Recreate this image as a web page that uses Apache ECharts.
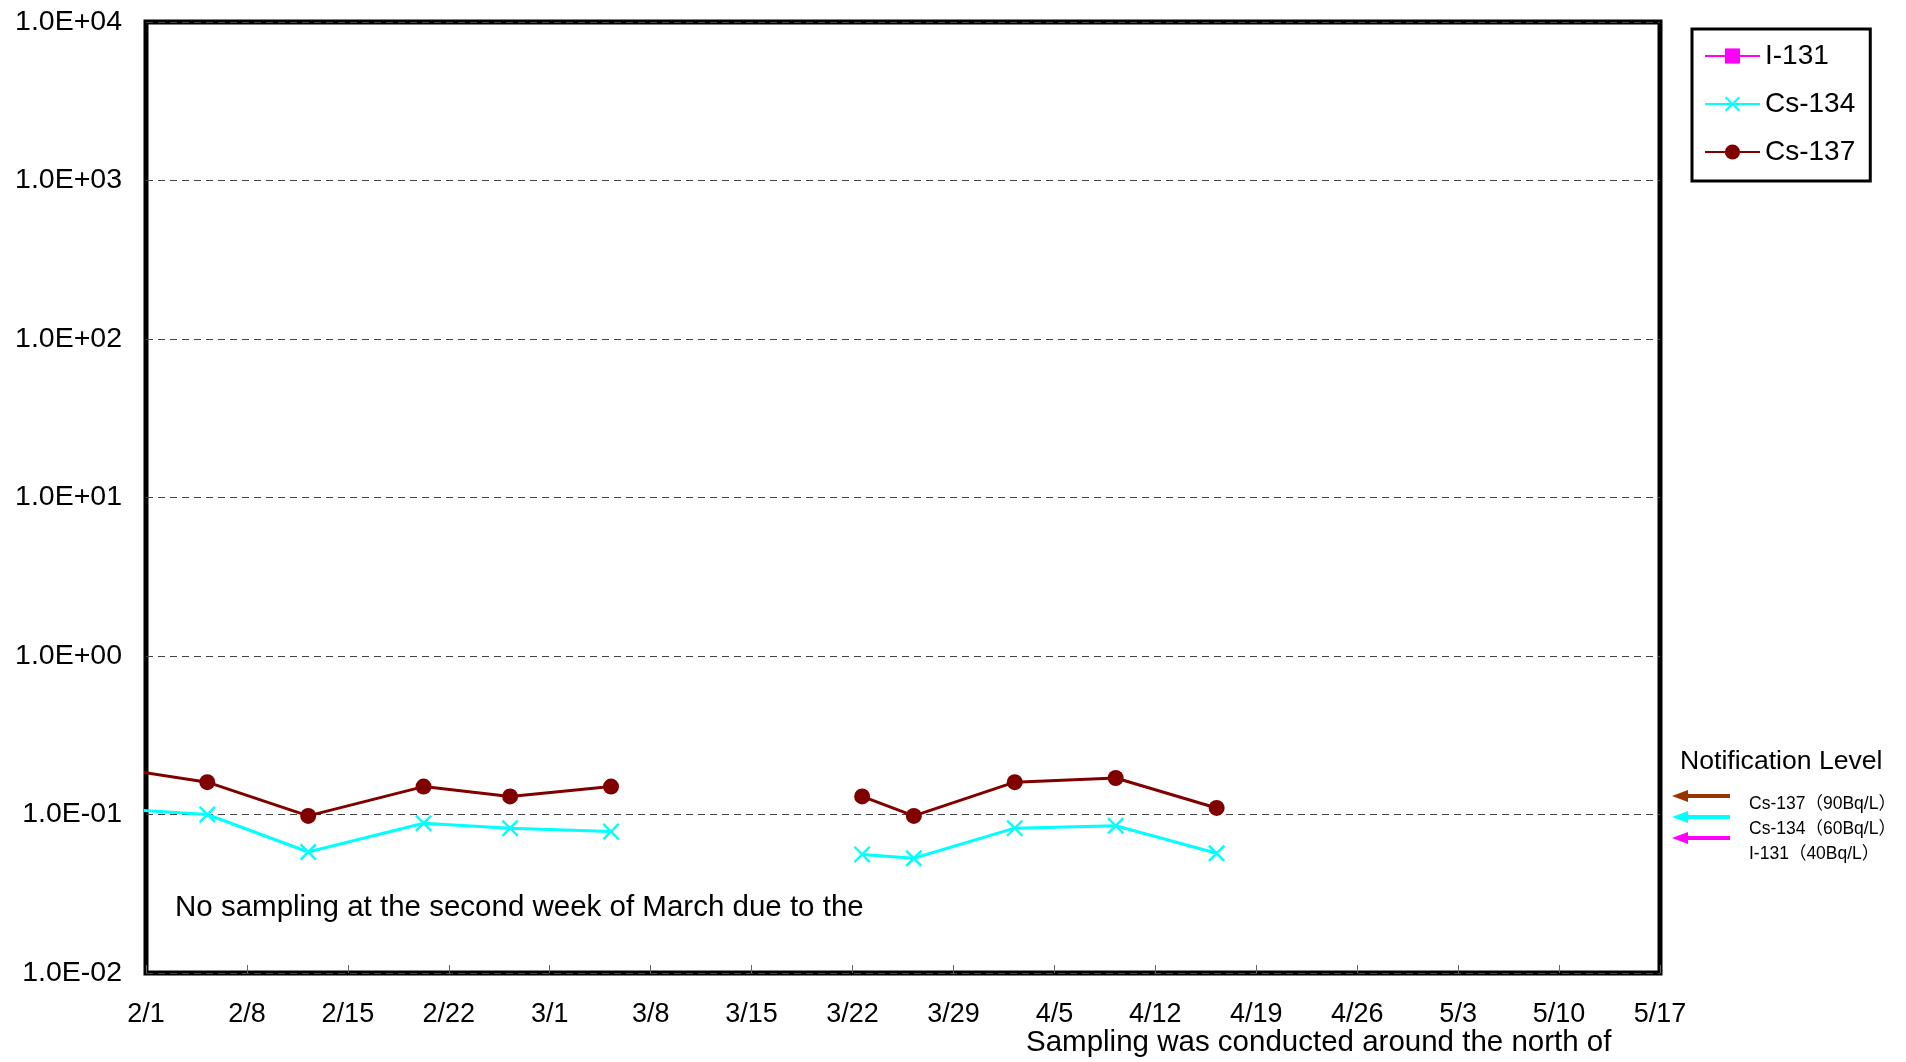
<!DOCTYPE html>
<html>
<head>
<meta charset="utf-8">
<script src="https://cdn.jsdelivr.net/npm/echarts@6/dist/echarts.min.js"></script>
<style>
  html, body { margin: 0; padding: 0; background: #fff; }
  #main { width: 1906px; height: 1062px; }
</style>
</head>
<body>
<div id="main"></div>
<script>
// sampling times (M/D HH:mm); 3/12 = no sampling (second week of March)
var dates = ['1/29 06:00', '2/5 06:00', '2/12 06:00', '2/20 06:00', '2/26 06:00', '3/5 06:00', '3/12 06:00',
             '3/22 16:00', '3/26 06:00', '4/2 06:00', '4/9 06:00', '4/16 06:00'];
// Bq/L, null = not sampled / not detected
var i131  = [null, null, null, null, null, null, null, null, null, null, null, null];
var cs134 = [0.11, 0.10, 0.058, 0.088, 0.082, 0.078, null, 0.056, 0.053, 0.082, 0.085, 0.057];
var cs137 = [0.20, 0.16, 0.098, 0.15, 0.13, 0.15, null, 0.13, 0.098, 0.16, 0.17, 0.11];
var xTickDays = 7;     // weekly ticks from 2/1
var xMaxDays = 105;    // up to 5/17

var baseDate = Date.UTC(2013, 1, 1);
function dayOf(s) {
    var parts = s.split(' ');
    var p = parts[0].split('/');
    var t = (parts[1] || '00:00').split(':');
    return (Date.UTC(2013, +p[0] - 1, +p[1], +t[0], +t[1]) - baseDate) / 86400000;
}
function dayLabel(d) {
    var dt = new Date(baseDate + d * 86400000);
    return (dt.getUTCMonth() + 1) + '/' + dt.getUTCDate();
}
function expLabel(v) {
    var e = Math.round(Math.log10(v));
    var a = Math.abs(e);
    return '1.0E' + (e < 0 ? '-' : '+') + (a < 10 ? '0' : '') + a;
}
function toData(vals) {
    return dates.map(function (d, i) {
        return [dayOf(d), vals[i] == null ? '-' : vals[i]];
    });
}

var font = 'Liberation Sans, Arial, sans-serif';
var xShape = 'path://M0,1 L1,0 L5,4 L9,0 L10,1 L6,5 L10,9 L9,10 L5,6 L1,10 L0,9 L4,5 Z';

var chart = echarts.init(document.getElementById('main'));

function arrow(y, color) {
    return [{
        type: 'line',
        shape: { x1: 1684, y1: y, x2: 1730, y2: y },
        style: { stroke: color, lineWidth: 4 }
    }, {
        type: 'polygon',
        shape: { points: [[1672, y], [1688, y - 6], [1688, y + 6]] },
        style: { fill: color }
    }];
}

var option = {
    animation: false,
    backgroundColor: '#fff',
    grid: {
        left: 146, top: 22, right: 246, bottom: 89,
        show: true, borderColor: '#000', borderWidth: 5
    },
    legend: {
        orient: 'vertical',
        left: 1692, top: 29,
        padding: [13, 15, 15, 12],
        itemGap: 20,
        itemWidth: 55,
        itemHeight: 19,
        borderColor: '#000',
        borderWidth: 3,
        lineStyle: { width: 2 },
        textStyle: { fontFamily: font, fontSize: 28, color: '#000' },
        data: ['I-131', 'Cs-134', 'Cs-137']
    },
    xAxis: {
        type: 'value',
        min: 0, max: xMaxDays, interval: xTickDays,
        axisLine: { show: false },
        axisTick: { show: true, inside: true, length: 8, lineStyle: { color: '#666', width: 1 } },
        splitLine: { show: false },
        axisLabel: {
            margin: 28,
            fontFamily: font, fontSize: 27, color: '#000',
            formatter: function (v) { return dayLabel(v); }
        }
    },
    yAxis: {
        type: 'log',
        logBase: 10,
        min: 0.01, max: 10000,
        axisLine: { show: false },
        axisTick: { show: false },
        splitLine: { show: true, lineStyle: { color: '#444', width: 1, type: [7, 5] } },
        axisLabel: {
            margin: 24,
            fontFamily: font, fontSize: 28.5, color: '#000',
            formatter: function (v) { return expLabel(v); }
        }
    },
    series: [{
        name: 'I-131',
        type: 'line',
        data: toData(i131),
        symbol: 'rect', symbolSize: 15,
        color: '#FF00FF',
        lineStyle: { width: 3, color: '#FF00FF' }
    }, {
        name: 'Cs-134',
        type: 'line',
        data: toData(cs134),
        symbol: xShape, symbolSize: 17,
        color: '#00FFFF',
        lineStyle: { width: 3, color: '#00FFFF' }
    }, {
        name: 'Cs-137',
        type: 'line',
        data: toData(cs137),
        symbol: 'circle', symbolSize: 16,
        color: '#800000',
        lineStyle: { width: 3, color: '#800000' }
    }],
    graphic: [{
        type: 'text', left: 175, top: 893,
        style: { text: 'No sampling at the second week of March due to the', fontFamily: font, fontSize: 29.5, fill: '#000' }
    }, {
        type: 'text', left: 1026, top: 1028,
        style: { text: 'Sampling was conducted around the north of', fontFamily: font, fontSize: 29.5, fill: '#000' }
    }, {
        type: 'text', left: 1680, top: 748,
        style: { text: 'Notification Level', fontFamily: font, fontSize: 26.6, fill: '#000' }
    }, {
        type: 'text', left: 1749, top: 795,
        style: { text: 'Cs-137（90Bq/L）', fontFamily: font + ', Noto Sans CJK JP', fontSize: 17.5, fill: '#000' }
    }, {
        type: 'text', left: 1749, top: 820,
        style: { text: 'Cs-134（60Bq/L）', fontFamily: font + ', Noto Sans CJK JP', fontSize: 17.5, fill: '#000' }
    }, {
        type: 'text', left: 1749, top: 845,
        style: { text: 'I-131（40Bq/L）', fontFamily: font + ', Noto Sans CJK JP', fontSize: 17.5, fill: '#000' }
    }].concat(arrow(796, '#993300'), arrow(817, '#00FFFF'), arrow(838, '#FF00FF'))
};
chart.setOption(option);
</script>
</body>
</html>
